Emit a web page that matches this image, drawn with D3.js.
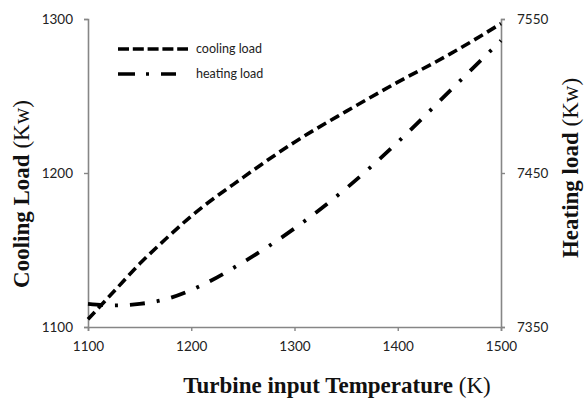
<!DOCTYPE html>
<html>
<head>
<meta charset="utf-8">
<script src="https://cdn.jsdelivr.net/npm/d3@7"></script>
<style>
  body { margin: 0; background: #fff; }
  .tick text { font-family: Lato, "Open Sans", sans-serif; font-size: 13.5px; fill: #222; }
</style>
</head>
<body>
<div id="chart"></div>
<script>
// chart data
const temps = [1100, 1125, 1150, 1175, 1200, 1250, 1300, 1350, 1400, 1450, 1500];
const coolingLoad = [1105, 1123, 1141, 1157, 1172, 1197, 1220, 1240, 1259, 1277, 1297];
const heatingLoad = [7365, 7364, 7365, 7368, 7374, 7392, 7414, 7440, 7470, 7503, 7536];
const xTicks = [1100, 1200, 1300, 1400, 1500];
const leftTicks = [1100, 1200, 1300];
const rightTicks = [7350, 7450, 7550];
const seriesNames = ["cooling load", "heating load"];

const width = 587, height = 398;
const margin = { top: 19, right: 86, bottom: 71, left: 88 };

const svg = d3.select("#chart")
    .append("svg")
    .attr("width", width)
    .attr("height", height);

const xScale = d3.scaleLinear()
    .domain([1100, 1500])
    .range([margin.left, width - margin.right]);

const yLeft = d3.scaleLinear()
    .domain([1100, 1300])
    .range([height - margin.bottom, margin.top]);

const yRight = d3.scaleLinear()
    .domain([7350, 7550])
    .range([height - margin.bottom, margin.top]);

const axisColor = "#868686";

// Axes
const xAxis = svg.append("g")
    .attr("transform", `translate(0, ${height - margin.bottom})`)
    .call(d3.axisBottom(xScale).tickValues(xTicks).tickSize(4).tickPadding(6).tickFormat(d3.format("d")));

const leftAxis = svg.append("g")
    .attr("transform", `translate(${margin.left}, 0)`)
    .call(d3.axisLeft(yLeft).tickValues(leftTicks).tickSize(4).tickPadding(11).tickFormat(d3.format("d")));

const rightAxis = svg.append("g")
    .attr("transform", `translate(${width - margin.right}, 0)`)
    .call(d3.axisRight(yRight).tickValues(rightTicks).tickSize(4).tickPadding(12).tickFormat(d3.format("d")));

[xAxis, leftAxis, rightAxis].forEach(g => {
    g.select(".domain").attr("stroke", axisColor).attr("stroke-width", 1.6);
    g.selectAll(".tick line").attr("stroke", axisColor).attr("stroke-width", 1.4);
});
xAxis.selectAll(".tick text").attr("dy", "1.05em");

// Lines
const coolingLine = d3.line()
    .x((d, i) => xScale(temps[i]))
    .y(d => yLeft(d))
    .curve(d3.curveMonotoneX);

const heatingLine = d3.line()
    .x((d, i) => xScale(temps[i]))
    .y(d => yRight(d))
    .curve(d3.curveMonotoneX);

svg.append("path")
    .datum(coolingLoad)
    .attr("fill", "none")
    .attr("stroke", "#000")
    .attr("stroke-width", 3.6)
    .attr("stroke-dasharray", "10,5")
    .attr("d", coolingLine);

svg.append("path")
    .datum(heatingLoad)
    .attr("fill", "none")
    .attr("stroke", "#000")
    .attr("stroke-width", 3.8)
    .attr("stroke-dasharray", "15,12,3,12")
    .attr("d", heatingLine);

// Legend
const legend = svg.append("g")
    .selectAll("g")
    .data(seriesNames)
    .enter()
    .append("g")
    .attr("transform", (d, i) => `translate(118, ${49 + i * 25})`);

legend.append("line")
    .attr("x1", 0)
    .attr("x2", (d, i) => i === 0 ? 70 : 58)
    .attr("stroke", "#000")
    .attr("stroke-width", 3.6)
    .attr("stroke-dasharray", (d, i) => i === 0 ? "11,3.8" : "17,11,3,12");

legend.append("text")
    .attr("x", 78)
    .attr("dy", "0.35em")
    .style("font-family", "Lato, 'Open Sans', sans-serif")
    .style("font-size", "12.5px")
    .style("fill", "#222")
    .text(d => d);

// Axis titles
const titleFont = "'Liberation Serif', 'DejaVu Serif', serif";

function addTitle(boldPart, plainPart, transform) {
    const t = svg.append("text")
        .attr("transform", transform)
        .attr("text-anchor", "middle")
        .style("font-family", titleFont)
        .style("font-size", "23px")
        .style("fill", "#111");
    t.append("tspan").style("font-weight", "bold").text(boldPart);
    t.append("tspan").text(plainPart);
}

addTitle("Turbine input Temperature ", "(K)", "translate(337, 393)");
addTitle("Cooling Load ", "(Kw)", "translate(29, 194) rotate(-90)");
addTitle("Heating load ", "(Kw)", "translate(578, 168) rotate(-90)");
</script>
</body>
</html>
